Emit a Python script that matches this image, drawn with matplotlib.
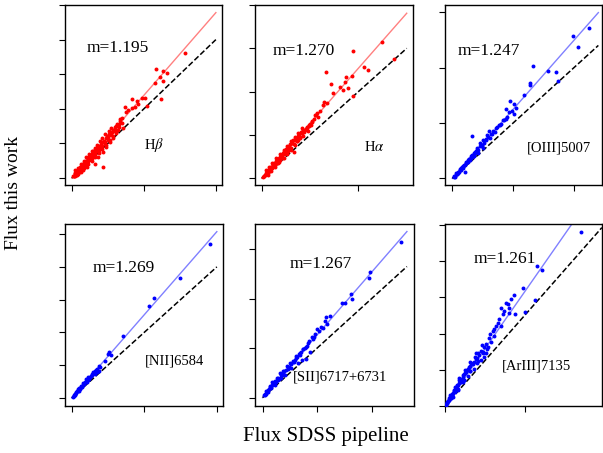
import matplotlib
matplotlib.use("Agg")
import matplotlib.pyplot as plt

plt.rcParams['font.family'] = ['Liberation Serif', 'DejaVu Serif']
plt.rcParams['mathtext.fontset'] = 'stix'

# --- data (arbitrary flux units per panel) ---
hb_x = [3.14, 2.35, 2.54, 2.63, 2.44, 2.52, 2.31, 2.47, 2.10, 1.68, 1.80, 1.94, 2.03, 1.84,
        1.75, 1.66, 1.47, 1.56, 1.50, 1.33, 1.26, 1.38, 1.19, 1.15, 1.43, 1.10, 1.01, 1.06,
        0.92, 0.82, 0.78, 0.69, 0.64, 0.59, 0.50, 0.43, 0.36, 0.27, 0.20, 0.13, 0.06, 0.87,
        0.55, 0.73, 0.87, 0.96, 1.15, 1.24, 1.29, 0.41, 0.31, 0.22, 0.18, 0.11, 0.45, 0.64,
        0.70, 0.75, 0.60, 0.52, 0.48, 0.39, 0.33, 0.25, 0.16, 0.09, 0.04, 0.98, 1.08, 1.20,
        0.85, 0.67, 0.57, 0.35, 0.29, 0.23, 0.14, 0.08,
        0.05, 0.08, 0.10, 0.12, 0.15, 0.17, 0.19, 0.21, 0.24, 0.26, 0.28, 0.30, 0.32, 0.34,
        0.37, 0.38, 0.40, 0.42, 0.44, 0.46, 0.49, 0.51, 0.53, 0.55, 0.58, 0.60, 0.62, 0.65,
        0.68, 0.71, 0.74, 0.77, 0.80, 0.83, 0.88, 0.91, 0.95, 1.00, 1.04, 1.12, 1.18, 1.22,
        1.30, 1.35, 1.40,
        0.10, 0.18, 0.25, 0.33, 0.40, 0.48, 0.55, 0.63, 0.70, 0.78, 0.85, 0.93, 1.02, 1.10,
        0.15, 0.25, 0.35, 0.45, 0.55, 0.65, 0.75, 0.85, 0.95, 1.05, 1.15, 1.25, 1.32]
hb_y = [3.60, 3.15, 3.09, 3.03, 2.91, 2.80, 2.76, 2.28, 2.08, 2.29, 2.24, 2.32, 2.32, 2.14,
        2.06, 2.03, 2.06, 1.97, 1.92, 1.70, 1.56, 1.60, 1.48, 1.39, 1.44, 1.29, 1.19, 1.10,
        1.05, 0.95, 0.86, 0.81, 0.71, 0.62, 0.54, 0.44, 0.38, 0.28, 0.21, 0.13, 0.06, 0.31,
        0.66, 0.62, 0.76, 0.91, 1.15, 1.29, 1.39, 0.33, 0.23, 0.33, 0.12, 0.18, 0.62, 0.42,
        0.88, 0.80, 0.78, 0.66, 0.52, 0.50, 0.42, 0.33, 0.22, 0.14, 0.05, 1.22, 1.24, 1.36,
        1.03, 0.78, 0.70, 0.44, 0.38, 0.26, 0.19, 0.10,
        0.07, 0.07, 0.14, 0.10, 0.19, 0.16, 0.25, 0.19, 0.29, 0.24, 0.36, 0.30, 0.40, 0.33,
        0.46, 0.40, 0.50, 0.45, 0.55, 0.49, 0.60, 0.56, 0.67, 0.59, 0.72, 0.66, 0.77, 0.70,
        0.83, 0.78, 0.92, 0.84, 0.99, 0.92, 1.08, 0.98, 1.17, 1.10, 1.26, 1.33, 1.40, 1.50,
        1.55, 1.66, 1.75,
        0.22, 0.30, 0.40, 0.50, 0.60, 0.70, 0.78, 0.88, 0.97, 1.06, 1.15, 1.26, 1.36, 1.45,
        0.08, 0.18, 0.28, 0.40, 0.50, 0.60, 0.72, 0.85, 0.96, 1.05, 1.22, 1.38, 1.48]

ha_x = [2.48, 1.88, 2.74, 2.12, 2.19, 1.33, 1.86, 1.74, 1.72, 1.43, 1.62, 1.68, 1.79, 1.47,
        1.88, 1.29, 1.34, 1.26, 1.10, 1.15, 1.17, 0.94, 1.00, 0.90, 0.83, 0.76, 0.69, 0.62,
        0.55, 0.50, 0.43, 0.38, 0.31, 0.24, 0.17, 0.10, 0.05, 0.52, 0.59, 0.72, 0.45, 0.34,
        0.79, 0.66, 0.86, 0.97, 1.05, 0.58, 0.48, 0.40, 0.28, 0.20, 0.13, 0.08, 0.65, 0.74,
        0.36, 0.26, 0.15, 0.03, 0.82, 0.92, 0.54, 0.44,
        0.04, 0.07, 0.09, 0.12, 0.14, 0.16, 0.19, 0.22, 0.24, 0.27, 0.29, 0.32, 0.35, 0.37,
        0.40, 0.42, 0.46, 0.48, 0.51, 0.54, 0.57, 0.60, 0.63, 0.67, 0.70, 0.73, 0.77, 0.80,
        0.85, 0.88, 0.93, 0.98, 1.03, 1.08, 1.13, 1.20,
        0.08, 0.15, 0.22, 0.30, 0.38, 0.45, 0.52, 0.60, 0.68, 0.75, 0.83,
        0.12, 0.20, 0.28, 0.36, 0.44, 0.52, 0.60, 0.68, 0.76, 0.86, 0.95, 1.02]
ha_y = [3.15, 2.93, 2.75, 2.57, 2.50, 2.46, 2.36, 2.33, 2.23, 2.17, 2.10, 2.04, 2.09, 1.96,
        1.90, 1.77, 1.73, 1.69, 1.46, 1.50, 1.41, 1.19, 1.25, 1.11, 1.04, 0.96, 0.88, 0.81,
        0.73, 0.65, 0.58, 0.50, 0.42, 0.31, 0.22, 0.12, 0.05, 0.56, 0.69, 0.85, 0.46, 0.35,
        0.92, 0.61, 1.12, 1.20, 1.31, 0.78, 0.62, 0.52, 0.33, 0.27, 0.18, 0.09, 0.88, 0.98,
        0.43, 0.36, 0.17, 0.03, 1.06, 1.13, 0.66, 0.57,
        0.06, 0.07, 0.13, 0.12, 0.19, 0.17, 0.25, 0.24, 0.32, 0.30, 0.39, 0.36, 0.46, 0.43,
        0.53, 0.49, 0.60, 0.55, 0.67, 0.63, 0.74, 0.70, 0.82, 0.78, 0.91, 0.86, 1.00, 0.95,
        1.08, 1.06, 1.17, 1.22, 1.33, 1.38, 1.45, 1.55,
        0.18, 0.27, 0.36, 0.46, 0.56, 0.66, 0.75, 0.86, 0.96, 1.05, 1.16,
        0.07, 0.16, 0.26, 0.37, 0.47, 0.58, 0.66, 0.76, 0.88, 0.98, 1.10, 1.22]

o3_x = [2.25, 1.99, 2.07, 1.57, 1.70, 1.74, 1.33, 1.27, 1.28, 1.18, 0.95, 1.01, 1.04, 0.89,
        1.02, 0.90, 0.85, 0.76, 0.73, 0.32, 0.61, 0.57, 0.51, 0.46, 0.41, 0.37, 0.32, 0.26,
        0.21, 0.15, 0.10, 0.04, 0.21, 0.43, 0.51, 0.66, 0.70, 0.55, 0.48, 0.39, 0.30, 0.24,
        0.18, 0.12, 0.07, 0.02, 0.80, 0.62, 0.35, 0.28,
        0.03, 0.05, 0.06, 0.08, 0.09, 0.11, 0.13, 0.14, 0.16, 0.18, 0.19, 0.22, 0.23, 0.25,
        0.27, 0.29, 0.31, 0.33, 0.35, 0.38, 0.40, 0.43, 0.45, 0.48, 0.52, 0.55, 0.58, 0.63,
        0.67, 0.72, 0.78, 0.83, 0.88, 0.93, 0.98]
o3_y = [2.72, 2.57, 2.38, 1.94, 1.92, 1.76, 2.02, 1.73, 1.69, 1.51, 1.40, 1.34, 1.27, 1.25,
        1.16, 1.11, 1.05, 0.96, 0.92, 0.77, 0.86, 0.78, 0.69, 0.63, 0.54, 0.48, 0.42, 0.33,
        0.24, 0.18, 0.09, 0.03, 0.12, 0.45, 0.54, 0.80, 0.84, 0.70, 0.58, 0.50, 0.36, 0.30,
        0.22, 0.15, 0.08, 0.02, 0.98, 0.72, 0.40, 0.35,
        0.04, 0.05, 0.09, 0.07, 0.12, 0.11, 0.17, 0.15, 0.21, 0.19, 0.25, 0.27, 0.30, 0.29,
        0.35, 0.34, 0.40, 0.39, 0.45, 0.46, 0.52, 0.51, 0.58, 0.60, 0.64, 0.71, 0.74, 0.80,
        0.85, 0.91, 0.97, 1.06, 1.08, 1.19, 1.22]

n2_x = [3.82, 2.99, 2.28, 2.14, 1.41, 1.04, 1.09, 1.01, 0.92, 0.74, 0.69, 0.63, 0.74, 0.52,
        0.40, 0.43, 0.32, 0.26, 0.18, 0.12, 0.06, 0.03, 0.64, 0.55, 0.46, 0.28, 0.21, 0.16,
        0.09, 0.78, 0.35, 0.48,
        0.05, 0.08, 0.10, 0.13, 0.15, 0.19, 0.22, 0.25, 0.29, 0.33, 0.37, 0.44, 0.50, 0.57,
        0.60, 0.68, 0.70]
n2_y = [4.69, 3.67, 3.04, 2.81, 1.90, 1.39, 1.31, 1.34, 1.11, 0.98, 0.88, 0.82, 0.83, 0.67,
        0.59, 0.49, 0.44, 0.37, 0.27, 0.18, 0.10, 0.03, 0.74, 0.72, 0.64, 0.34, 0.29, 0.21,
        0.13, 0.93, 0.42, 0.57,
        0.06, 0.08, 0.13, 0.15, 0.20, 0.22, 0.28, 0.32, 0.37, 0.41, 0.47, 0.55, 0.64, 0.71,
        0.78, 0.86, 0.80]

s2_x = [2.55, 1.97, 1.95, 1.62, 1.65, 1.45, 1.51, 1.24, 1.16, 1.14, 1.19, 1.11, 1.00, 0.94,
        0.90, 0.84, 0.80, 0.87, 0.79, 0.69, 0.62, 0.59, 0.50, 0.44, 0.38, 0.31, 0.26, 0.20,
        0.13, 0.07, 0.03, 0.17, 0.23, 0.33, 0.41, 0.53, 0.65, 0.72, 0.47, 0.36, 0.28, 0.10,
        0.56, 0.75, 0.66, 0.15, 0.05,
        0.04, 0.06, 0.08, 0.10, 0.12, 0.14, 0.16, 0.18, 0.21, 0.23, 0.25, 0.28, 0.30, 0.33,
        0.36, 0.38, 0.40, 0.43, 0.46, 0.49, 0.52, 0.55, 0.58, 0.61, 0.64, 0.68, 0.71, 0.74,
        0.77, 0.82, 0.86, 0.92, 0.96, 1.03, 1.07]
s2_y = [3.14, 2.53, 2.41, 2.09, 1.99, 1.91, 1.92, 1.64, 1.62, 1.54, 1.49, 1.40, 1.38, 1.22,
        1.22, 1.10, 1.03, 0.93, 0.79, 0.86, 0.84, 0.76, 0.69, 0.63, 0.53, 0.49, 0.39, 0.32,
        0.24, 0.14, 0.05, 0.32, 0.26, 0.39, 0.46, 0.59, 0.69, 0.76, 0.58, 0.46, 0.35, 0.11,
        0.72, 0.98, 0.88, 0.19, 0.08,
        0.06, 0.08, 0.12, 0.15, 0.17, 0.21, 0.21, 0.26, 0.28, 0.33, 0.31, 0.39, 0.38, 0.45,
        0.45, 0.50, 0.53, 0.55, 0.62, 0.62, 0.68, 0.73, 0.72, 0.80, 0.82, 0.90, 0.92, 0.98,
        1.00, 1.05, 1.14, 1.18, 1.28, 1.35, 1.42]

ar3_x = [8.57, 5.80, 6.09, 4.89, 5.63, 5.04, 4.31, 4.12, 3.95, 3.53, 4.05, 3.63, 4.05, 4.37,
         3.42, 3.21, 3.49, 3.00, 2.79, 2.90, 2.69, 2.37, 2.16, 2.48, 1.95, 1.74, 1.53, 1.32,
         1.11, 0.90, 0.74, 0.59, 0.44, 0.27, 0.13, 1.11, 1.43, 1.85, 2.27, 2.58, 2.63, 0.80,
         0.48, 1.60, 2.05, 1.22, 0.65, 0.35, 0.20, 0.08, 3.10, 2.00, 1.00,
         0.05, 0.10, 0.15, 0.18, 0.24, 0.28, 0.32, 0.38, 0.42, 0.46, 0.52, 0.55, 0.62, 0.66,
         0.72, 0.78, 0.84, 0.88, 0.95, 1.00, 1.05, 1.15, 1.20, 1.28, 1.38, 1.45, 1.58, 1.65,
         1.80, 1.88, 2.10, 2.25, 2.45, 2.55, 2.85, 3.05, 3.30, 3.70, 3.85,
         0.30, 0.60, 0.90, 1.25, 1.55, 1.95, 2.30, 0.40, 0.80, 1.20, 1.60, 2.00, 2.40]
ar3_y = [9.63, 7.72, 7.52, 6.53, 5.87, 5.19, 6.11, 5.93, 5.65, 5.43, 5.43, 5.10, 5.14, 5.10,
         4.83, 4.40, 4.40, 4.13, 3.78, 3.54, 3.27, 2.99, 2.81, 2.72, 2.57, 2.31, 2.17, 1.89,
         1.71, 1.43, 1.16, 0.88, 0.61, 0.33, 0.15, 1.34, 1.65, 2.07, 2.53, 2.90, 3.12, 0.88,
         0.51, 1.92, 2.46, 1.45, 0.80, 0.45, 0.25, 0.10, 3.85, 2.65, 1.30,
         0.07, 0.16, 0.21, 0.30, 0.34, 0.42, 0.48, 0.55, 0.62, 0.68, 0.74, 0.82, 0.88, 0.98,
         1.02, 1.10, 1.18, 1.28, 1.32, 1.45, 1.50, 1.60, 1.75, 1.80, 1.98, 2.05, 2.22, 2.35,
         2.45, 2.70, 2.95, 3.05, 3.25, 3.45, 3.95, 4.25, 4.60, 5.25, 5.70,
         0.60, 1.05, 1.55, 2.00, 2.45, 2.90, 3.35, 0.45, 0.95, 1.45, 1.95, 2.40, 2.95]

slopes = [1.195, 1.270, 1.247, 1.269, 1.267, 1.261]
line_names = [r'H$\beta$', r'H$\alpha$', '[OIII]5007', '[NII]6584', '[SII]6717+6731', '[ArIII]7135']
x_ticks = [[0, 2, 4], [0, 2], [0, 1, 2], [0, 2, 4], [0, 1, 2], [0, 5]]
y_ticks = [[0, 1, 2, 3, 4, 5], [0, 1, 2, 3, 4], [0, 1, 2, 3], [0, 1, 2, 3, 4, 5], [0, 1, 2, 3],
           [0, 2, 4, 6, 8, 10]]
x_lims = [(-0.19, 4.17), (-0.14, 3.13), (-0.12, 2.46), (-0.185, 4.17), (-0.14, 2.78), (0, 9.86)]
y_lims = [(-0.2, 5.0), (-0.155, 4.0), (-0.12, 3.13), (-0.25, 5.31), (-0.17, 3.51), (0, 10.05)]
fit_xmax = [4.0, 3.0, 2.4, 4.0, 2.65, 9.85]

xs = [hb_x, ha_x, o3_x, n2_x, s2_x, ar3_x]
ys = [hb_y, ha_y, o3_y, n2_y, s2_y, ar3_y]
dot_colors = ['red', 'red', 'blue', 'blue', 'blue', 'blue']
fit_colors = ['#ff8080', '#ff8080', '#8080ff', '#8080ff', '#8080ff', '#8080ff']

# text positions (axes fraction)
m_pos = [(0.14, 0.76), (0.11, 0.745), (0.083, 0.745), (0.175, 0.758), (0.22, 0.78), (0.185, 0.805)]
name_pos = [(0.50, 0.22), (0.69, 0.21), (0.52, 0.205), (0.506, 0.247), (0.237, 0.157), (0.36, 0.222)]

# axes rectangles in pixels (left, top, width, height)
W, H = 603, 453
rects_px = [(65, 5, 157, 180), (255, 5, 158, 180), (445, 5, 157, 180),
            (65, 224, 158, 182), (255, 224, 159, 182), (445, 224, 157, 182)]

fig = plt.figure(figsize=(W / 100, H / 100), dpi=100)

for i in range(6):
    l, t, w, h = rects_px[i]
    ax = fig.add_axes([l / W, 1 - (t + h) / H, w / W, h / H])
    ax.scatter(xs[i], ys[i], s=8, color=dot_colors[i], linewidths=0, zorder=3)
    xm = fit_xmax[i]
    ax.plot([0, xm], [0, slopes[i] * xm], color=fit_colors[i], lw=1.0, zorder=2)
    ax.plot([0, xm], [0, xm], 'k--', lw=1.1, zorder=2)
    ax.set_xticks(x_ticks[i])
    ax.set_yticks(y_ticks[i])
    ax.set_xlim(*x_lims[i])
    ax.set_ylim(*y_lims[i])
    ax.tick_params(direction='out', length=4, width=0.8, labelbottom=False, labelleft=False)
    for sp in ax.spines.values():
        sp.set_linewidth(1.0)
    ax.text(m_pos[i][0], m_pos[i][1], 'm=%.3f' % slopes[i], transform=ax.transAxes,
            fontsize=12.5, va='center', ha='left')
    ax.text(name_pos[i][0], name_pos[i][1], line_names[i], transform=ax.transAxes,
            fontsize=10.5, va='center', ha='left')

fig.text(326 / W, 1 - 437 / H, 'Flux SDSS pipeline', ha='center', va='center', fontsize=15)
fig.text(14 / W, 1 - 192.5 / H, 'Flux this work', ha='center', va='center',
         rotation=90, fontsize=14)

fig.savefig('out.png', dpi=100)
